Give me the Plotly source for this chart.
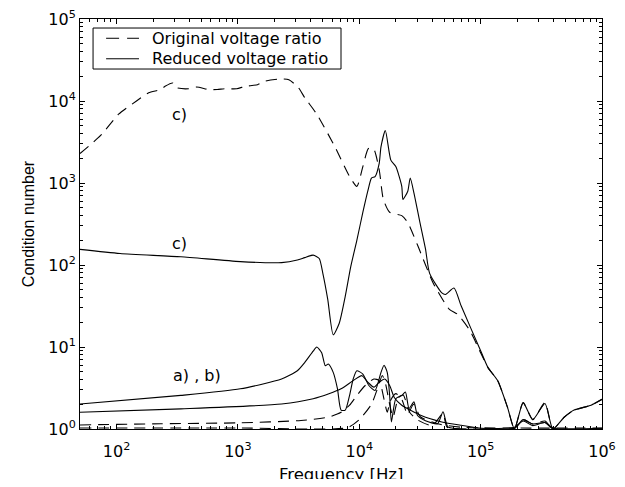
import plotly.graph_objects as go

# ---------------- data ----------------
# c) curves
c_orig_f = [50, 74, 104, 146, 184, 231, 251, 290, 313, 394, 457, 575, 676, 776, 977, 1150, 1450, 1660,
            2270, 2630, 3160, 3550, 4470, 6310, 8320, 9550, 10700, 11900, 13100, 14600, 15800, 17800,
            22400, 25100, 30200, 40700, 55000, 64600, 81300, 100000, 115000, 138000, 166000, 190000,
            224000, 269000, 339000, 394000, 490000, 589000, 813000, 1000000]
c_orig_v = [2290, 3800, 6900, 10000, 12600, 13800, 15100, 16600, 14500, 14100, 14800, 13800, 13800, 14100,
            14100, 15100, 15800, 17400, 18600, 18200, 14500, 11000, 6900, 2750, 1200, 910, 1580, 2630, 2630,
            1450, 630, 440, 400, 330, 175, 60, 29, 25, 16, 8.5, 5.6, 3.9, 1.86, 1.0, 2.1, 1.3, 2.1, 1.0,
            1.4, 1.7, 1.95, 2.3]

c_red_f = [50, 107, 339, 1047, 2290, 3090, 3550, 4170, 4680, 5010, 5500, 6100, 6840, 7670, 8510, 9550,
           10700, 11750, 12600, 13500, 14600, 15100, 16400, 18200, 20000, 22400, 22900, 25100, 26300,
           28200, 31600, 35100, 38000, 47900, 51300, 60300, 69200, 100000, 115000, 138000, 166000,
           190000, 224000, 269000, 339000, 394000, 490000, 589000, 813000, 1000000]
c_red_v = [155, 138, 126, 110, 107, 115, 123, 132, 120, 79, 38, 14.1, 19.5, 41.7, 95.5, 200, 437, 794,
           1150, 1200, 1740, 2750, 4370, 1900, 1585, 912, 631, 794, 1150, 759, 331, 158, 79, 45.7, 43.7,
           52.5, 31.6, 9, 5.6, 3.9, 1.86, 1.0, 2.1, 1.3, 2.05, 1.0, 1.4, 1.7, 1.95, 2.3]

# a) curves
a_orig_f = [50, 1000, 8000, 10000, 12600, 14000, 15500, 16500, 17800, 19000, 21000, 23000, 26000, 30000,
            40000, 49000, 53000, 100000, 190000, 224000, 269000, 339000, 394000, 1000000]
a_orig_v = [1.03, 1.03, 1.04, 1.3, 2.0, 3.0, 4.5, 3.5, 2.0, 1.4, 2.4, 2.6, 1.6, 1.3, 1.1, 1.55, 1.05, 1.0,
            1.02, 1.3, 1.15, 1.25, 1.0, 1.0]

a_red_f = [50, 339, 1047, 2290, 3090, 3550, 4170, 4470, 4900, 5250, 5560, 6100, 6610, 7080, 7670, 8320,
           8910, 9550, 10700, 12000, 13500, 15100, 16000, 17000, 17800, 18400, 20000, 22400, 24000,
           25700, 28200, 30200, 35100, 44200, 49000, 53700, 69200, 190000, 224000, 269000, 339000,
           394000, 1000000]
a_red_v = [2.02, 2.57, 3.09, 4.07, 5.13, 6.46, 8.9, 10.0, 8.5, 5.9, 6.2, 4.9, 3.1, 1.7, 1.7, 2.57, 4.07,
           5.13, 4.68, 3.39, 2.95, 4.9, 6.0, 4.9, 2.57, 1.22, 2.34, 2.57, 2.82, 1.78, 2.14, 1.46, 1.26,
           1.16, 1.62, 1.06, 1.0, 1.02, 1.3, 1.15, 1.2, 1.0, 1.0]

# b) curves
b_orig_f = [50, 231, 1047, 3310, 5620, 7080, 8320, 9550, 11200, 13200, 14600, 16000, 17000, 18000,
            20000, 22400, 25000, 28000, 32000, 45000, 70000, 1000000]
b_orig_v = [1.12, 1.16, 1.19, 1.27, 1.40, 1.6, 1.95, 2.57, 3.39, 4.07, 3.9, 2.3, 1.6, 2.2, 2.7, 2.3,
            1.5, 2.0, 1.4, 1.15, 1.05, 1.03]

b_red_f = [50, 339, 2290, 4170, 5620, 7080, 8910, 10500, 11750, 13200, 14600, 16200, 17800, 19500,
           22400, 32400, 47900, 69200, 102000, 190000, 224000, 269000, 339000, 394000, 1000000]
b_red_v = [1.6, 1.76, 2.02, 2.34, 2.69, 3.09, 3.89, 4.47, 3.72, 3.24, 3.72, 4.07, 3.39, 2.4, 1.95, 1.46,
           1.22, 1.11, 1.02, 1.05, 1.25, 1.1, 1.2, 1.03, 1.02]

x_tickvals = [100, 1000, 10000, 100000, 1000000]
x_ticktext = ["10<sup>2</sup>", "10<sup>3</sup>", "10<sup>4</sup>", "10<sup>5</sup>", "10<sup>6</sup>"]
y_tickvals = [1, 10, 100, 1000, 10000, 100000]
y_ticktext = ["10<sup>0</sup>", "10<sup>1</sup>", "10<sup>2</sup>", "10<sup>3</sup>", "10<sup>4</sup>", "10<sup>5</sup>"]

legend_names = ["Original voltage ratio", "Reduced voltage ratio"]
curve_labels = ["c)", "c)", "a) , b)"]
x_title = "Frequency [Hz]"
y_title = "Condition number"

# minor tick positions (2..9 per decade)
x_minor = [m * 10 ** e for e in range(1, 6) for m in range(2, 10) if 50 <= m * 10 ** e <= 1e6]
y_minor = [m * 10 ** e for e in range(0, 5) for m in range(2, 10)]

# ---------------- figure ----------------
WIDE = "DejaVu Sans, Verdana, sans-serif"
NARROW = "Liberation Sans, Arial, Helvetica, sans-serif"
dash_style = "11px,7px"
fig = go.Figure()

series = [
    (c_orig_f, c_orig_v, dash_style),
    (a_orig_f, a_orig_v, dash_style),
    (b_orig_f, b_orig_v, dash_style),
    (c_red_f, c_red_v, "solid"),
    (a_red_f, a_red_v, "solid"),
    (b_red_f, b_red_v, "solid"),
]
for fx, fy, dash in series:
    fig.add_trace(go.Scatter(
        x=fx, y=fy, mode="lines", showlegend=False,
        line=dict(color="black", width=1.1, dash=dash, shape="spline", smoothing=0.6),
    ))

# curve labels
for (lx, ly), txt in zip([(2.52, 3.84), (2.52, 2.26), (2.66, 0.65)], curve_labels):
    fig.add_annotation(x=lx, y=ly, xref="x", yref="y", text=txt, showarrow=False,
                       font=dict(family=WIDE, size=16, color="black"))

# legend drawn as box + sample lines + texts (paper coordinates)
fig.add_shape(type="rect", xref="paper", yref="paper", x0=0.025, x1=0.50, y0=0.878, y1=0.978,
              line=dict(color="black", width=1), fillcolor="white", layer="above")
for yy, dash, txt in [(0.953, "13px,8px", legend_names[0]), (0.903, "solid", legend_names[1])]:
    fig.add_shape(type="line", xref="paper", yref="paper", x0=0.050, x1=0.113, y0=yy, y1=yy,
                  line=dict(color="black", width=1, dash=dash), layer="above")
    fig.add_annotation(x=0.134, y=yy, xref="paper", yref="paper", text=txt, showarrow=False,
                       xanchor="left", yanchor="middle",
                       font=dict(family=WIDE, size=16, color="black"))

# x-axis title placed explicitly below the tick labels
fig.add_annotation(x=0.5, y=-0.112, xref="paper", yref="paper", text=x_title, showarrow=False,
                   xanchor="center", yanchor="middle",
                   font=dict(family=WIDE, size=16.5, color="black"))

axis_common = dict(
    type="log", showline=True, linecolor="black", linewidth=1, mirror="allticks",
    ticks="inside", ticklen=5, tickcolor="black", showgrid=False, zeroline=False,
    tickfont=dict(family=WIDE, size=16, color="black"), ticklabeloverflow="allow",
    automargin=False,
)

# the page body adds an 8px margin, so the figure is sized/offset to compensate
fig.update_layout(
    width=609, height=471,
    margin=dict(l=72, r=15, t=11, b=50),
    paper_bgcolor="white", plot_bgcolor="white",
    font=dict(family=WIDE, size=15, color="black"),
    xaxis=dict(axis_common, range=[1.699, 6], tickvals=x_tickvals, ticktext=x_ticktext,
               ticklabelstandoff=8,
               minor=dict(tickmode="array", tickvals=x_minor, ticks="inside", ticklen=3,
                          tickcolor="black", showgrid=False)),
    yaxis=dict(axis_common, range=[0, 5], tickvals=y_tickvals, ticktext=y_ticktext,
               minor=dict(tickmode="array", tickvals=y_minor, ticks="inside", ticklen=3,
                          tickcolor="black", showgrid=False),
               title=dict(text=y_title, font=dict(family=NARROW, size=16), standoff=9)),
    showlegend=False,
)

fig.write_html("out.html")
